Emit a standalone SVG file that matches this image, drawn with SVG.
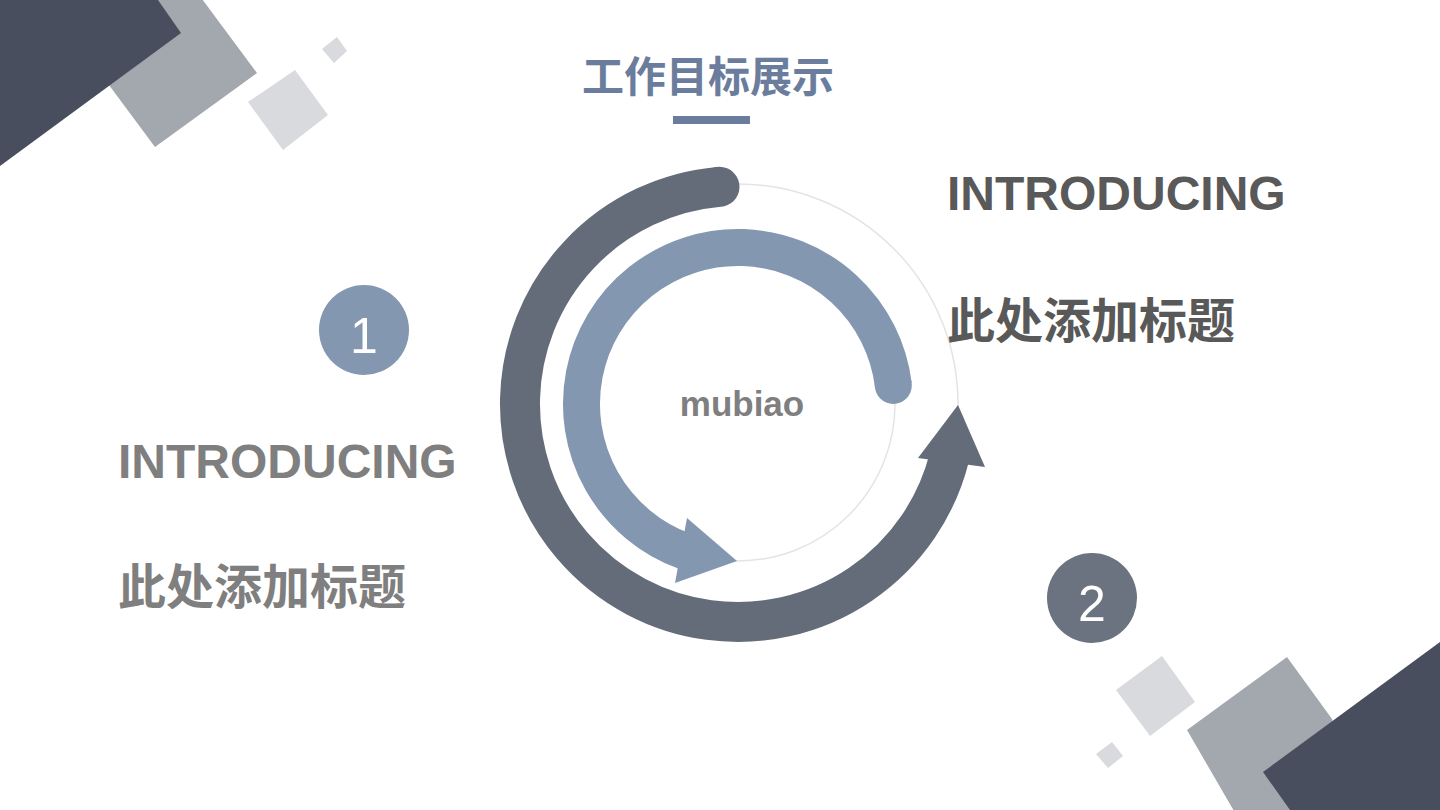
<svg xmlns="http://www.w3.org/2000/svg" width="1440" height="810" viewBox="0 0 1440 810">
<style>
.dark{fill:#484e5d}
.mid{fill:#a3a7ae}
.light{fill:#d9dadd}
.track{fill:none;stroke:#e4e4e4;stroke-width:1.5}
.en{font-family:"Liberation Sans",Arial,sans-serif;font-weight:bold}
.cn{font-family:"Noto Sans CJK SC","Liberation Sans",sans-serif;font-weight:bold}
.num{font-family:"Liberation Sans",Arial,sans-serif;font-size:50px;fill:#ffffff;text-anchor:middle}
</style>
<rect width="1440" height="810" fill="#ffffff"/>
<g id="decor-top-left">
<polygon class="mid" points="182,-28 257,73 155,147 80,46"/>
<polygon class="dark" points="0,0 158,0 181,33 0,166"/>
<polygon class="light" points="295,70 328,115 283,150 248,102"/>
<polygon class="light" points="337,37 347,51 334,63 322,49"/>
</g>
<g id="decor-bottom-right">
<polygon class="light" points="1162,656 1195,702 1150,736 1116,690"/>
<polygon class="light" points="1112,742 1123,756 1108,768 1096,754"/>
<polygon class="mid" points="1287,657 1332,719 1360,830 1245,830 1187,730"/>
<polygon class="dark" points="1263,772 1440,642 1440,810 1290,810"/>
</g>
<g id="title">
<text class="cn" x="708" y="92" font-size="42" fill="#6b7d9c" text-anchor="middle">工作目标展示</text>
<rect x="673" y="116" width="77" height="8" fill="#6b7d9c"/>
</g>
<g id="connectors">
<circle class="track" cx="738" cy="404" r="220"/>
<circle class="track" cx="738" cy="404" r="157"/>
<path d="M719,186.8 A218,218 0 1 0 949.5,456.7" fill="none" stroke="#646b79" stroke-width="40" stroke-linecap="butt"/>
<path d="M719,186.8 L719.5,186.8" fill="none" stroke="#646b79" stroke-width="40" stroke-linecap="round"/>
<polygon points="918,458 958,405 985,467" fill="#646b79"/>
<path d="M893.3,384.9 A156.5,156.5 0 1 0 684.5,551.1" fill="none" stroke="#8497b0" stroke-width="37" stroke-linecap="butt"/>
<path d="M893.3,384.9 L893.3,385.4" fill="none" stroke="#8497b0" stroke-width="37" stroke-linecap="round"/>
<polygon points="687,518 737,561 675,583" fill="#8497b0"/>
</g>
<g id="center">
<text class="en" x="742" y="416" font-size="35" fill="#7f7f7f" text-anchor="middle">mubiao</text>
</g>
<g id="node-1">
<circle cx="364" cy="330" r="45" fill="#8497b0"/>
<text class="num" x="364" y="353">1</text>
</g>
<g id="node-2">
<circle cx="1092" cy="598" r="45" fill="#6b7280"/>
<text class="num" x="1092" y="621">2</text>
</g>
<g id="text-left">
<text class="en" x="118" y="478" font-size="48" fill="#7f7f7f">INTRODUCING</text>
<text class="cn" x="118" y="604" font-size="48" fill="#7f7f7f">此处添加标题</text>
</g>
<g id="text-right">
<text class="en" x="947" y="210" font-size="48" fill="#595959">INTRODUCING</text>
<text class="cn" x="947" y="338" font-size="48" fill="#595959">此处添加标题</text>
</g>
</svg>
